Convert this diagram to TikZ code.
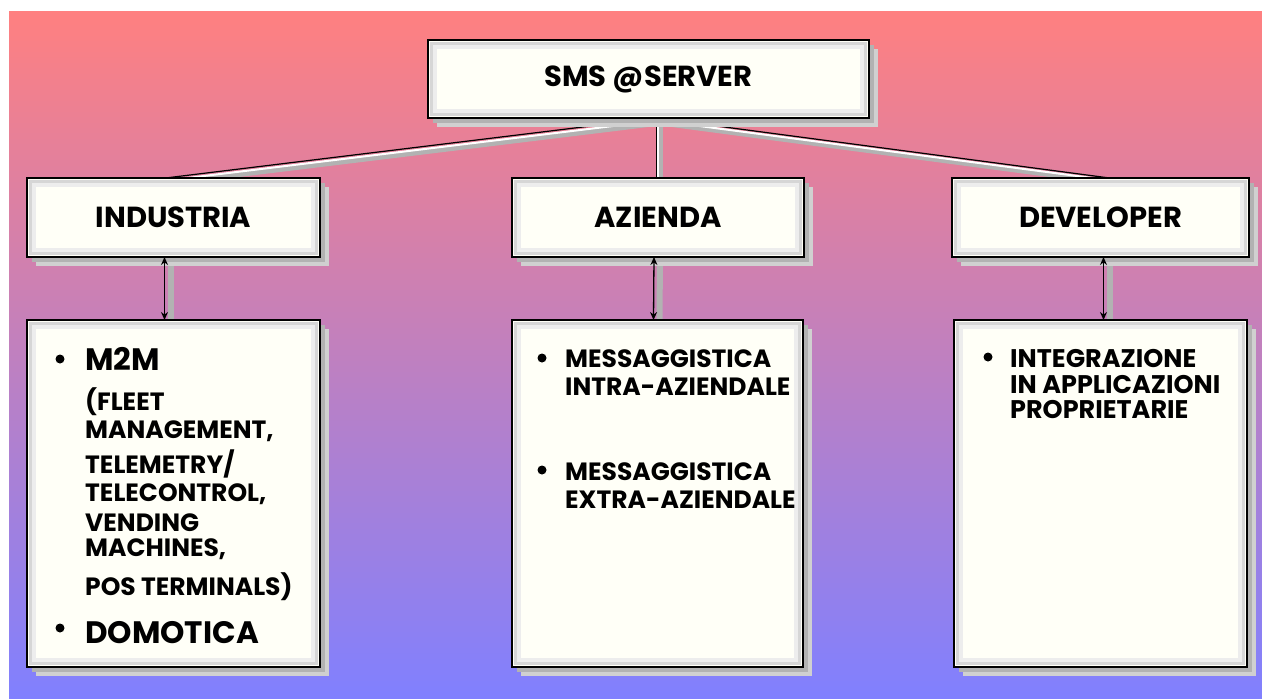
\documentclass[tikz,border=0pt]{standalone}
\usepackage{fontspec}
\setmainfont{Poppins}
\usetikzlibrary{arrows.meta}
\pgfdeclarelayer{bg}
\pgfdeclarelayer{conn}
\pgfsetlayers{bg,conn,main}
\definecolor{bgtop}{RGB}{255,128,128}
\definecolor{bgbot}{RGB}{128,128,255}
\definecolor{boxfill}{RGB}{255,255,247}
\definecolor{shad1}{RGB}{208,208,208}
\definecolor{shad2}{RGB}{178,178,178}
\begin{document}
\begin{tikzpicture}[x=1pt,y=-1pt,
  box/.style={draw=black, line width=1.4pt, fill=boxfill, anchor=north west,
    inner sep=0pt, outer sep=0pt, font=\bfseries\fontsize{29}{31}\selectfont,
    preaction={fill=shad1, rounded corners=4pt, transform canvas={shift={(9,9)}}},
    preaction={fill=shad2, rounded corners=3pt, transform canvas={shift={(5,5)}}},
    path picture={\draw[black!16, line width=3pt]
      ([shift={(3.5,3.5)}]path picture bounding box.north west) rectangle
      ([shift={(-3.5,-3.5)}]path picture bounding box.south east);
      \draw[black!7, line width=4pt]
      ([shift={(7,7)}]path picture bounding box.north west) rectangle
      ([shift={(-7,-7)}]path picture bounding box.south east);}},
  pipe/.style={draw=black, line width=1.2pt,
    preaction={draw=shad2, line width=5pt, transform canvas={shift={(4,5)}}},
    preaction={draw=white, line width=2pt, transform canvas={shift={(1.5,2.5)}}}},
  arr/.style={{Stealth[length=8pt,width=7pt]}-{Stealth[length=8pt,width=7pt]}, draw=black, line width=1.3pt},
  arrshadow/.style={draw=shad2, line width=6pt},
  txt/.style={anchor=base west, inner sep=0pt, font=\bfseries\fontsize{25}{25}\selectfont},
  big/.style={anchor=base west, inner sep=0pt, font=\bfseries\fontsize{31}{31}\selectfont},
  dtxt/.style={anchor=base west, inner sep=0pt, font=\bfseries\fontsize{25.5}{25.5}\selectfont},
  bullet/.style={circle, fill=black, inner sep=0pt, minimum size=9pt}
]
\useasboundingbox (0,0) rectangle (1262,699);
\begin{pgfonlayer}{bg}
  \fill[white] (0,0) rectangle (1262,699);
  \shade[top color=bgtop, bottom color=bgbot] (9,11) rectangle (1262,699);
\end{pgfonlayer}

% boxes
\node[box, minimum width=441pt, minimum height=78pt] (server) at (428,40) {SMS @SERVER};
\node[box, minimum width=293pt, minimum height=79pt] (industria) at (27,178) {INDUSTRIA};
\node[box, minimum width=292pt, minimum height=79pt] (azienda) at (512,178) {AZIENDA};
\node[box, minimum width=297pt, minimum height=79pt] (developer) at (952,178) {DEVELOPER};
\node[box, minimum width=293pt, minimum height=347pt] (industriaL) at (27,320) {};
\node[box, minimum width=291pt, minimum height=347pt] (aziendaL) at (512,320) {};
\node[box, minimum width=293pt, minimum height=347pt] (developerL) at (954,320) {};

% connectors
\begin{pgfonlayer}{conn}
  \draw[pipe] ([xshift=8pt]server.south) -- ([xshift=-8pt]industria.north);
  \draw[pipe] ([xshift=8pt]server.south) -- ([xshift=-1.5pt]azienda.north);
  \draw[pipe] ([xshift=8pt]server.south) -- ([xshift=9pt]developer.north);
  \draw[arrshadow] ([xshift=-3pt]industria.south) -- ([xshift=-3pt]industriaL.north);
  \draw[arrshadow] ([xshift=2pt]azienda.south) -- ([xshift=2pt]aziendaL.north);
  \draw[arrshadow] ([xshift=9pt]developer.south) -- ([xshift=9pt]developerL.north);
\end{pgfonlayer}
\draw[arr] ([xshift=-9pt]industria.south) -- ([xshift=-9pt]industriaL.north);
\draw[arr] ([xshift=-4pt]azienda.south) -- ([xshift=-4pt]aziendaL.north);
\draw[arr] ([xshift=3pt]developer.south) -- ([xshift=3pt]developerL.north);

% INDUSTRIA list
\node[bullet] (bi1) at (60,359) {};
\node[big] (m2m) at (85,370) {M2M};
\node[txt] (i1) at (85,410) {(FLEET};
\node[txt] (i2) at (85,438) {MANAGEMENT,};
\node[txt] (i3) at (85,473) {TELEMETRY/};
\node[txt] (i4) at (85,501) {TELECONTROL,};
\node[txt] (i5) at (85,531) {VENDING};
\node[txt] (i6) at (85,556) {MACHINES,};
\node[txt] (i7) at (85,595) {POS TERMINALS)};
\node[bullet] (bi2) at (60,628) {};
\node[big] (domo) at (85,643) {DOMOTICA};

% AZIENDA list
\node[bullet] (ba1) at (542,358) {};
\node[txt] (a1) at (565,367) {MESSAGGISTICA};
\node[txt] (a2) at (565,395) {INTRA-AZIENDALE};
\node[bullet] (ba2) at (542,470) {};
\node[txt] (a3) at (565,480) {MESSAGGISTICA};
\node[txt] (a4) at (565,508) {EXTRA-AZIENDALE};

% DEVELOPER list
\node[bullet] (bd1) at (988,357) {};
\node[dtxt] (d1) at (1010,367) {INTEGRAZIONE};
\node[dtxt] (d2) at (1010,393) {IN APPLICAZIONI};
\node[dtxt] (d3) at (1010,418) {PROPRIETARIE};
\end{tikzpicture}
\end{document}
